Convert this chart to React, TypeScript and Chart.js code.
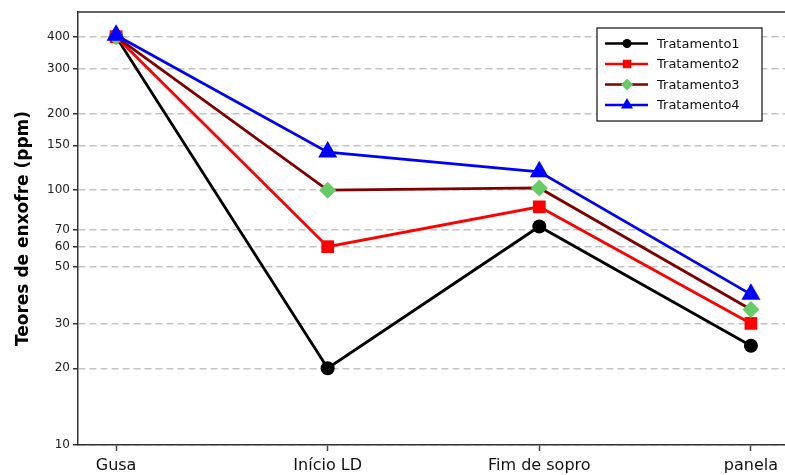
import React, { useEffect, useRef } from "react";
import { Chart, registerables } from "chart.js";

Chart.register(...registerables);

const categories = ["Gusa", "Início LD", "Fim de sopro", "panela"];
const tratamento1 = [400, 20, 72, 24.5];
const tratamento2 = [400, 60, 86, 30];
const tratamento3 = [400, 100, 102, 34];
const tratamento4 = [405, 141, 118, 39];
const yTickValues = [10, 20, 30, 50, 60, 70, 100, 150, 200, 300, 400];

const seriesNames = ["Tratamento1", "Tratamento2", "Tratamento3", "Tratamento4"];
const seriesValues = [tratamento1, tratamento2, tratamento3, tratamento4];
const lineColors = ["#000000", "#ff0000", "#800000", "#0000ff"];
const pointColors = ["#000000", "#ff0000", "#66cc66", "#0000ff"];
const pointStyles = ["circle", "rect", "rectRot", "triangle"];
const pointRadii = [7, 9, 8.5, 11];
const legendRadii = [4.5, 6, 6, 7];

const FONT = "'DejaVu Sans', Verdana, sans-serif";

function drawPoint(ctx: CanvasRenderingContext2D, style: string, r: number, x: number, y: number) {
  ctx.beginPath();
  if (style === "circle") {
    ctx.arc(x, y, r, 0, Math.PI * 2);
  } else if (style === "rect") {
    const s = Math.SQRT1_2 * r;
    ctx.rect(x - s, y - s, 2 * s, 2 * s);
  } else if (style === "rectRot") {
    ctx.moveTo(x, y - r);
    ctx.lineTo(x + r, y);
    ctx.lineTo(x, y + r);
    ctx.lineTo(x - r, y);
    ctx.closePath();
  } else if (style === "triangle") {
    ctx.moveTo(x, y - r);
    ctx.lineTo(x + r * Math.sin((2 * Math.PI) / 3), y - r * Math.cos((2 * Math.PI) / 3));
    ctx.lineTo(x + r * Math.sin((4 * Math.PI) / 3), y - r * Math.cos((4 * Math.PI) / 3));
    ctx.closePath();
  }
  ctx.fill();
}

const frameAndLegend = {
  id: "frameAndLegend",
  afterDraw(chart: any) {
    const { ctx, chartArea } = chart;
    ctx.save();
    ctx.setLineDash([]);
    ctx.strokeStyle = "#333333";
    ctx.lineWidth = 1.5;
    ctx.beginPath();
    ctx.moveTo(chartArea.left, chartArea.top);
    ctx.lineTo(chartArea.right, chartArea.top);
    ctx.stroke();
    const bx = 597, by = 28, bw = 165, bh = 93;
    ctx.fillStyle = "#ffffff";
    ctx.fillRect(bx, by, bw, bh);
    ctx.strokeStyle = "#222222";
    ctx.lineWidth = 1.3;
    ctx.strokeRect(bx, by, bw, bh);
    ctx.font = "13px " + FONT;
    ctx.textBaseline = "middle";
    ctx.textAlign = "left";
    for (let i = 0; i < seriesNames.length; i++) {
      const y = 43.5 + i * 20.5;
      ctx.strokeStyle = lineColors[i];
      ctx.lineWidth = 2.5;
      ctx.beginPath();
      ctx.moveTo(605, y);
      ctx.lineTo(648, y);
      ctx.stroke();
      ctx.fillStyle = pointColors[i];
      drawPoint(ctx, pointStyles[i], legendRadii[i], 627, y);
      ctx.fillStyle = "#111111";
      ctx.fillText(seriesNames[i], 657, y + 1);
    }
    ctx.restore();
  },
};

export default function App() {
  const canvasRef = useRef<HTMLCanvasElement | null>(null);

  useEffect(() => {
    if (!canvasRef.current) return;
    const datasets = seriesNames.map((name, i) => ({
      label: name,
      data: seriesValues[i].map((v, j) => ({ x: j, y: v })),
      borderColor: lineColors[i],
      backgroundColor: pointColors[i],
      pointBackgroundColor: pointColors[i],
      pointBorderColor: pointColors[i],
      pointStyle: pointStyles[i],
      pointRadius: pointRadii[i],
      pointBorderWidth: 0,
      borderWidth: 2.8,
      tension: 0,
      order: seriesNames.length - i,
    }));
    const chart = new Chart(canvasRef.current, {
      type: "line",
      data: { datasets },
      options: {
        responsive: false,
        animation: false,
        devicePixelRatio: 1,
        layout: { padding: { left: 0, top: 12, right: 10, bottom: 0 } },
        plugins: { legend: { display: false }, tooltip: { enabled: false } },
        scales: {
          x: {
            type: "linear",
            min: -0.18,
            max: 3.18,
            afterBuildTicks: (scale: any) => {
              scale.ticks = categories.map((_, i) => ({ value: i }));
            },
            afterFit: (scale: any) => {
              scale.height = 30;
            },
            ticks: {
              callback: (v: any) => categories[v] ?? "",
              font: { family: FONT, size: 16 },
              color: "#111111",
              padding: 5,
              maxRotation: 0,
              autoSkip: false,
            },
            grid: {
              drawOnChartArea: false,
              drawTicks: true,
              tickLength: 6,
              tickColor: "#444444",
              tickWidth: 1.5,
            },
            border: { color: "#333333", width: 1.5 },
          },
          y: {
            type: "logarithmic",
            min: 10,
            max: 500,
            afterBuildTicks: (scale: any) => {
              scale.ticks = yTickValues.map((v) => ({ value: v }));
            },
            afterFit: (scale: any) => {
              scale.width = 78;
            },
            ticks: {
              callback: (v: any) => String(v),
              font: { family: FONT, size: 12 },
              color: "#222222",
              padding: 3,
              autoSkip: false,
            },
            grid: {
              color: "#c4c4c4",
              lineWidth: 1.5,
              drawTicks: true,
              tickLength: 5,
              tickColor: "#333333",
              tickBorderDash: [],
              tickWidth: 1.5,
            },
            border: { color: "#333333", width: 1.5, dash: [7, 4] },
            title: {
              display: true,
              text: "Teores de enxofre (ppm)",
              font: { family: FONT, size: 17, weight: "bold" },
              color: "#000000",
              padding: { top: 13, bottom: 0 },
            },
          },
        },
      },
      plugins: [frameAndLegend],
    } as any);
    return () => chart.destroy();
  }, []);

  return (
    <div style={{ position: "absolute", left: 0, top: 0, width: 785, height: 475, overflow: "hidden", background: "#fff" }}>
      <canvas ref={canvasRef} width={800} height={475} style={{ display: "block" }} />
    </div>
  );
}
